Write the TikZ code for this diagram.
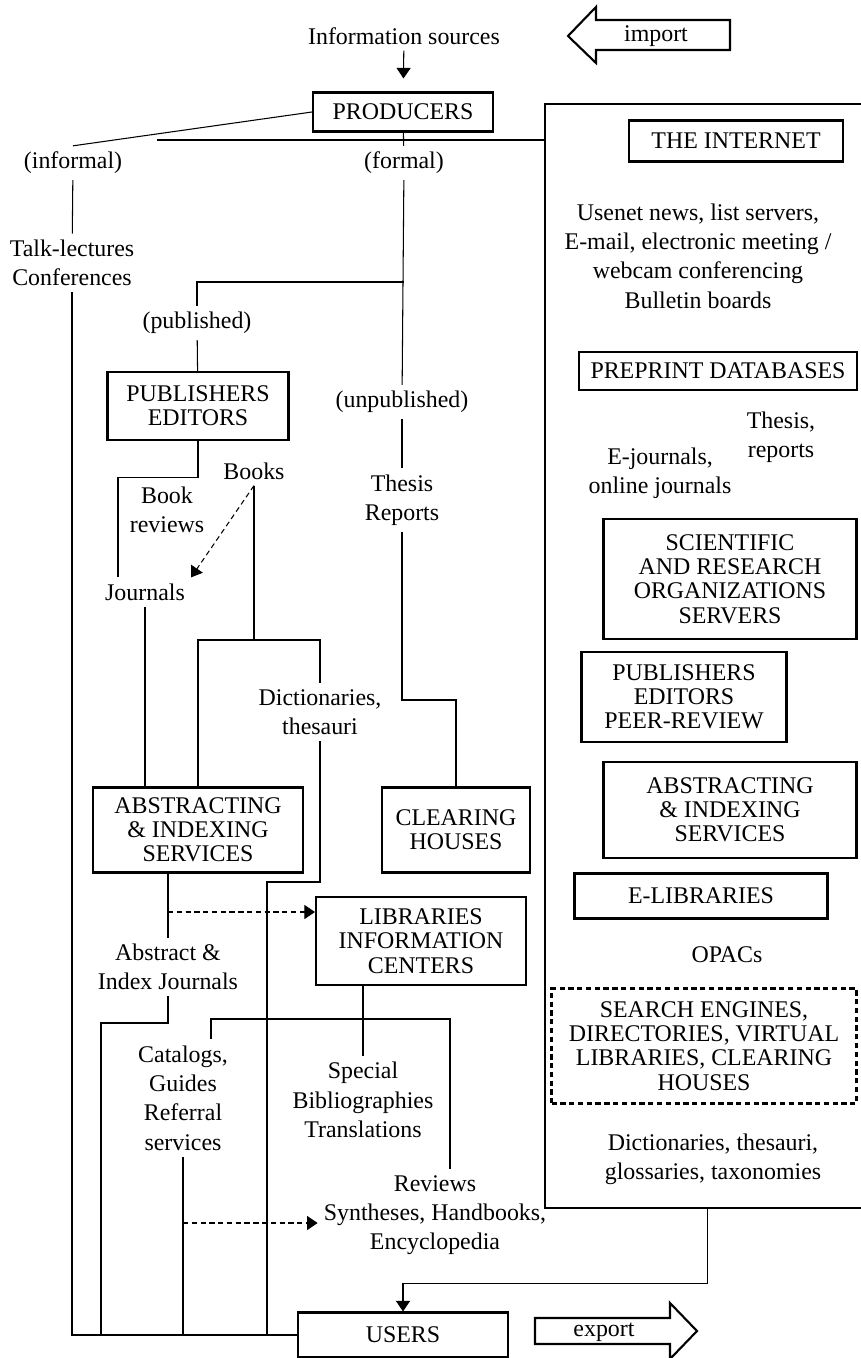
\documentclass[tikz,border=0pt]{standalone}
\usepackage{fontspec}
\setmainfont{Liberation Serif}
\usetikzlibrary{arrows.meta}

\begin{document}
\begin{tikzpicture}[x=0.02cm,y=-0.02cm,
	font=\fontsize{13.6}{16.7}\selectfont,
	txt/.style={align=center},
	box/.style={draw,line width=1.2pt,align=center,font=\fontsize{13.6}{13.8}\selectfont},
	link/.style={line width=0.6pt},
	flow/.style={link,-{Triangle[width=8pt,length=6pt]}},
	hint/.style={link,dash pattern=on 3pt off 2pt,-{Triangle[width=8pt,length=6pt]}},
	bigarrow/.style={draw,line width=1.2pt,line join=miter}]
	\useasboundingbox (0,0) rectangle (861,1358);

	% print side
	\node[txt] (infosrc) at (404,36) {Information sources};
	\node[box,minimum width=3.6cm,minimum height=0.78cm] (producers) at (403,112) {PRODUCERS};
	\node[txt] (informal) at (73,163) {(informal)};
	\node[txt] (formal) at (404,163) {(formal)};
	\node[txt] (talk) at (72,263) {Talk-lectures\\Conferences};
	\node[txt] (published) at (197,323) {(published)};
	\node[txt] (unpublished) at (402,402) {(unpublished)};
	\node[box,minimum width=3.62cm,minimum height=1.36cm] (publishers) at (198,406) {PUBLISHERS\\EDITORS};
	\node[txt] (books) at (254,471) {Books};
	\node[txt] (bookrev) at (167,510) {Book\\reviews};
	\node[txt] (thesis) at (402,500) {Thesis\\Reports};
	\node[txt] (journals) at (145,592) {Journals};
	\node[txt] (dictl) at (320,712) {Dictionaries,\\thesauri};
	\node[box,minimum width=4.2cm,minimum height=1.7cm] (abstracting) at (198,830) {ABSTRACTING\\\& INDEXING\\SERVICES};
	\node[box,minimum width=2.96cm,minimum height=1.7cm] (clearing) at (456,830) {CLEARING\\HOUSES};
	\node[box,minimum width=4.2cm,minimum height=1.76cm] (libraries) at (421,941) {LIBRARIES\\INFORMATION\\CENTERS};
	\node[txt] (absjour) at (168,967) {Abstract \&\\Index Journals};
	\node[txt] (catalogs) at (183,1098) {Catalogs,\\Guides\\Referral\\services};
	\node[txt] (special) at (363,1100) {Special\\Bibliographies\\Translations};
	\node[txt] (reviews) at (435,1215) {Reviews\\Syntheses, Handbooks,\\Encyclopedia};
	\node[box,minimum width=4.2cm,minimum height=0.9cm] (users) at (403,1335) {USERS};

	% electronic side
	\node[draw,line width=1.2pt,minimum width=6.48cm,minimum height=22.08cm,anchor=north west] (internet) at (544,103) {};
	\node[box,minimum width=4.28cm,minimum height=0.82cm] (theinternet) at (736,141) {THE INTERNET};
	\node[txt] (usenet) at (698,256) {Usenet news, list servers,\\E-mail, electronic meeting /\\webcam conferencing\\Bulletin boards};
	\node[box,minimum width=5.56cm,minimum height=0.76cm] (preprint) at (718,371) {PREPRINT DATABASES};
	\node[txt] (thesisr) at (781,437) {Thesis,\\reports};
	\node[txt] (ejournals) at (660,473) {E-journals,\\online journals};
	\node[box,minimum width=5.06cm,minimum height=2.4cm] (scientific) at (730,579) {SCIENTIFIC\\AND RESEARCH\\ORGANIZATIONS\\SERVERS};
	\node[box,minimum width=4.1cm,minimum height=1.8cm] (pubpeer) at (684,697) {PUBLISHERS\\EDITORS\\PEER-REVIEW};
	\node[box,minimum width=5.06cm,minimum height=1.92cm] (abstractingr) at (730,810) {ABSTRACTING\\\& INDEXING\\SERVICES};
	\node[box,minimum width=5.06cm,minimum height=0.9cm] (elibraries) at (701,896) {E-LIBRARIES};
	\node[txt] (opacs) at (727,955) {OPACs};
	\node[box,dash pattern=on 3pt off 2pt,minimum width=6.1cm,minimum height=2.3cm] (search) at (704,1046) {SEARCH ENGINES,\\DIRECTORIES, VIRTUAL\\LIBRARIES, CLEARING\\HOUSES};
	\node[txt] (dictr) at (713,1159) {Dictionaries, thesauri,\\glossaries, taxonomies};

	% import / export
	\node (importlbl) at (656,36) {import};
	\draw[bigarrow] (568,36) -- (596,7) -- (596,20) -- (730,20) -- (730,50) -- (596,50) -- (596,63) -- cycle;
	\node (exportlbl) at (604,1332) {export};
	\draw[bigarrow] (535,1318) -- (670,1318) -- (670,1303) -- (697,1331) -- (670,1359) -- (670,1344) -- (535,1344) -- cycle;

	% connectors
	\draw[flow,shorten >=0.26cm] (infosrc) -- (producers);
	\draw[link] (producers.west) -- (informal.north);
	\coordinate (split) at (157,140);
	\draw[link] (split) -- (split -| internet.west);
	\draw[link] (producers) -- (formal);
	\draw[link] (informal) -- (talk);
	\draw[link] (talk) |- (users.west);
	\draw[link] (formal) -- (unpublished);
	\coordinate (pubfork) at (404,282);
	\draw[link] (pubfork) -| (published);
	\draw[link] (published) -- (publishers);
	\draw[link] (publishers.south) -- ++(0,36) -| ([xshift=-0.54cm]journals.north);
	\draw[link] (unpublished) -- (thesis);
	\coordinate (thfork) at (456,700);
	\draw[link] (thesis) |- (thfork) -- (clearing);
	\draw[hint] (books.south) -- (journals.north east);
	\coordinate (bkfork) at (254,640);
	\draw[link] (books) -- (bkfork);
	\draw[link] (abstracting) |- (bkfork) -| (dictl);
	\draw[link] (journals) -- (journals |- abstracting.north);
	\coordinate (dcfork) at (267,882);
	\draw[link] (dictl) |- (dcfork) -- (dcfork |- users.west);
	\draw[link] (absjour.north |- abstracting.south) -- (absjour);
	\coordinate (dashsrc) at (168,912);
	\draw[hint] (dashsrc) -- (dashsrc -| libraries.west);
	\coordinate (ajfork) at (101,1023);
	\draw[link] (absjour) |- (ajfork) -- (ajfork |- users.west);
	\draw[link] (special.north |- libraries.south) -- (special);
	\coordinate (lbleft) at (211,1019);
	\coordinate (lbright) at (450,1019);
	\draw[link] (lbleft |- catalogs.north) -- (lbleft) -- (lbright) -- (lbright |- reviews.north);
	\draw[link] (catalogs) -- (catalogs |- users.west);
	\coordinate (dotsrc) at (183,1223);
	\draw[hint] (dotsrc) -- (dotsrc -| reviews.west);
	\draw[flow] (internet.south) -- ++(0,75) -| (users.north);
\end{tikzpicture}
\end{document}
